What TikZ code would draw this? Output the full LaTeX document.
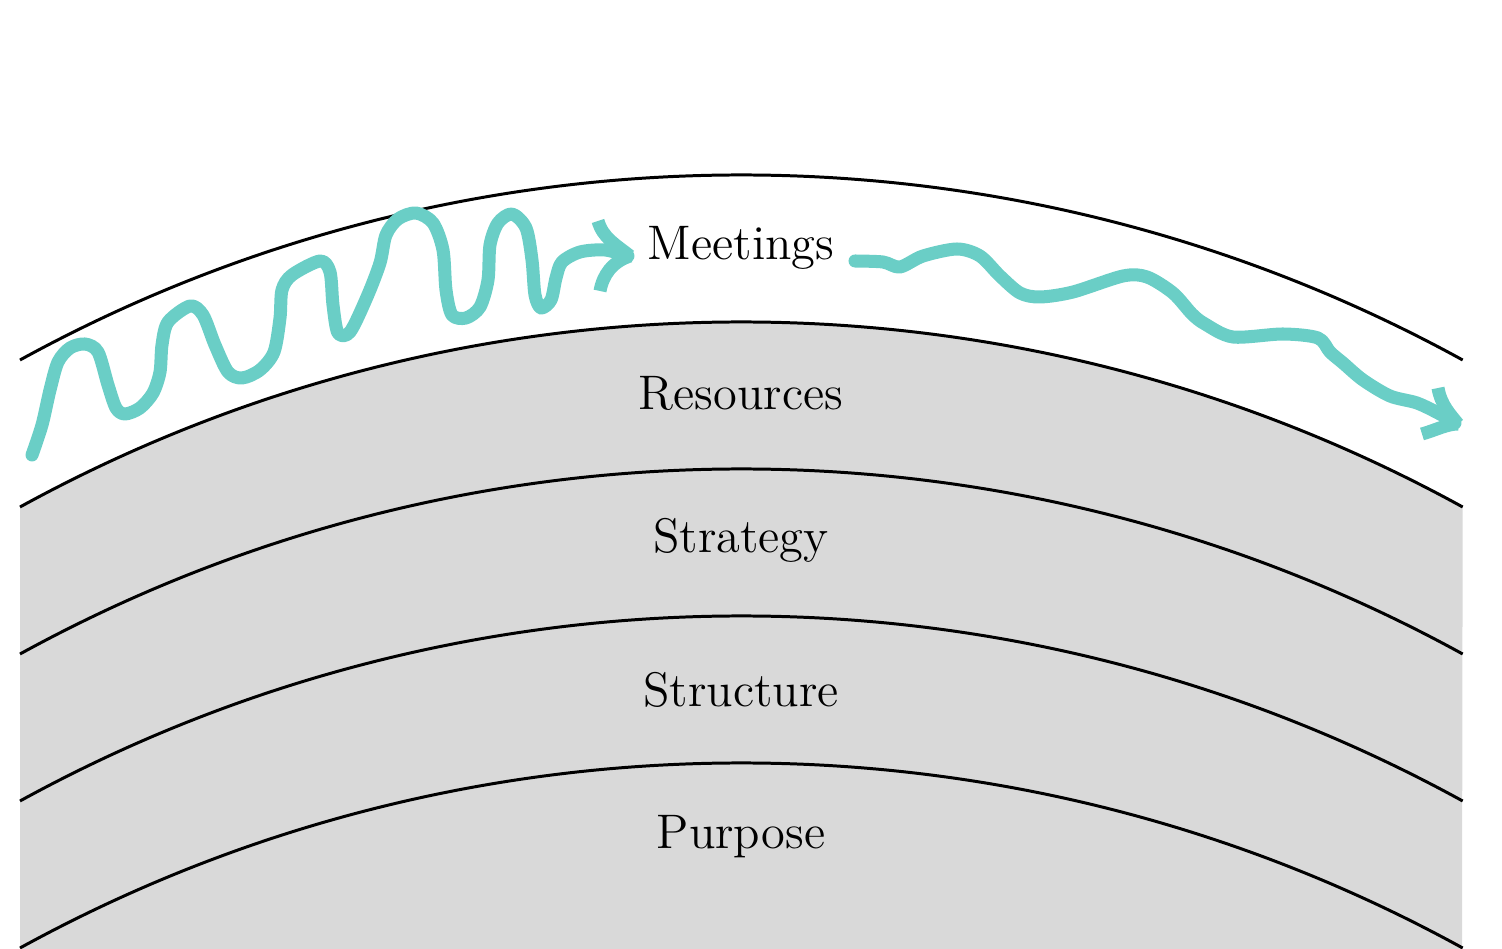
\documentclass[tikz,border=0pt]{standalone}
\usepackage{fontspec}
\usetikzlibrary{positioning}

\definecolor{wave}{HTML}{6ACEC6}
\definecolor{layer}{HTML}{D9D9D9}

\begin{document}
\begin{tikzpicture}[x=0.01cm, y=-0.01cm,
    rim/.style={line width=0.85pt},
    squiggle/.style={wave, line width=3.7pt, line cap=round, line join=round},
    barb/.style={wave, line width=3.7pt, line cap=butt},
    label/.style={font=\fontsize{13.8}{16}\selectfont, inner sep=0pt}]
    \useasboundingbox (0,0) rectangle (1502,949);

    % Grey layers below the meetings band
    \fill[layer] (20,507) arc[start angle=118.78, end angle=61.22, radius=14.975cm]
        -- (1462,949) -- (20,949) -- cycle;

    % Layer boundaries
    \foreach \y in {360,507,654,801,948}
        \draw[rim] (20,\y) arc[start angle=118.78, end angle=61.22, radius=14.975cm];

    % Layer names
    \node[label] (meet) at (741,248) {Meetings};
    \node[label] (res)  at (741,393) {Resources};
    \node[label] (strat) at (741,540) {Strategy};
    \node[label] (struct) at (741,690) {Structure};
    \node[label] (purp) at (741,837) {Purpose};

    % Messy path before the meeting
    \draw[squiggle] plot[smooth, tension=0.5] coordinates {
        (32,455) (42,425) (50,390) (58,362) (70,348) (85,344) (98,352)
        (108,385) (116,408) (125,414) (140,408) (153,393) (160,372) (162,345)
        (168,322) (190,306) (203,315) (215,345) (228,372) (242,378) (260,370)
        (274,352) (280,318) (282,290) (292,275) (320,261) (330,272) (333,305)
        (338,333) (350,332) (367,297) (380,263) (386,235) (398,219) (416,213)
        (433,223) (443,250) (446,290) (452,315) (466,318) (480,307) (488,280)
        (490,245) (498,223) (512,214) (526,228) (532,260) (535,295) (541,308)
        (551,300) (556,278) (562,262) (580,252) (605,250) (628,256)};
    \coordinate (ltip) at (630,256);
    \draw[barb] (598,221) .. controls (603,238) and (615,244) .. (ltip);
    \draw[barb] (600,291) .. controls (603,275) and (612,262) .. (ltip);

    % Smoother path after the meeting
    \draw[squiggle] plot[smooth, tension=0.5] coordinates {
        (855,261) (883,262) (900,267) (923,256) (957,249) (980,256) (1000,276)
        (1020,293) (1040,297) (1073,292) (1123,276) (1147,277) (1173,293)
        (1192,314) (1205,324) (1233,337) (1283,334) (1318,338) (1330,352)
        (1343,363) (1363,380) (1390,396) (1417,403) (1440,414) (1455,423)};
    \coordinate (rtip) at (1458,424);
    \draw[barb] (1438,388) .. controls (1441,405) and (1450,414) .. (rtip);
    \draw[barb] (1422,434) .. controls (1436,430) and (1447,424) .. (rtip);
\end{tikzpicture}
\end{document}
